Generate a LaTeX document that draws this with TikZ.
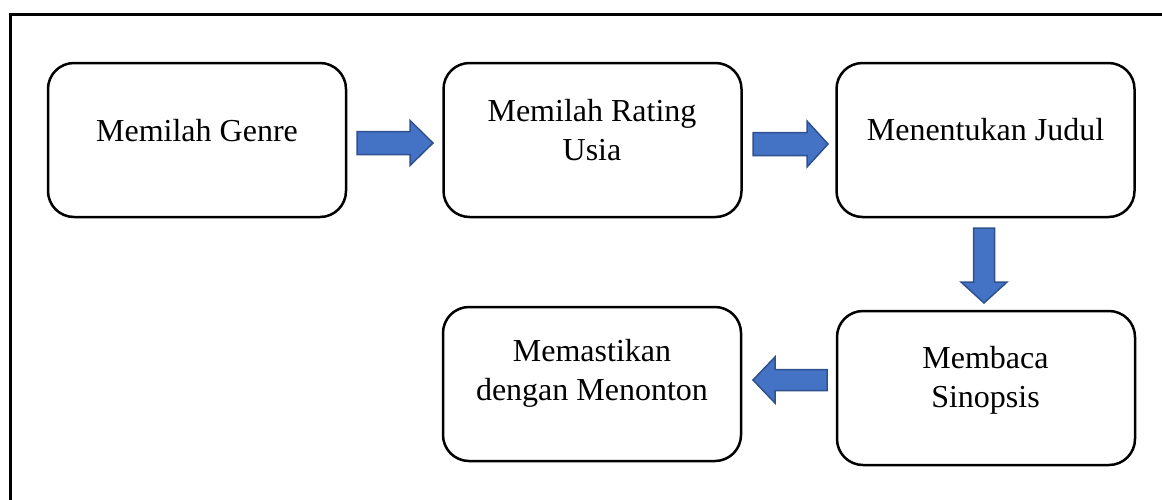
\documentclass[tikz,border=0pt]{standalone}
\usepackage{fontspec}
\setmainfont{Liberation Serif}
\definecolor{arrfill}{HTML}{4472C4}
\definecolor{arrline}{HTML}{2F528F}
\begin{document}
\begin{tikzpicture}[x=1pt,y=-1pt,
  box/.style={draw=black, line width=2.5pt, rounded corners=26pt, minimum width=298pt, minimum height=154pt, inner sep=0pt},
  lbl/.style={font=\fontsize{32}{39}\selectfont, align=center, inner sep=0pt},
  blockarrow/.style={fill=arrfill, draw=arrline, line width=1.5pt, line join=miter}]
\useasboundingbox (0,0) rectangle (1162,499);
\begin{scope}
\clip (0,0) rectangle (1162,499);
\draw[line width=3pt] (10,520) -- (10,14) -- (1180,14);
\end{scope}
% boxes
\node[box] (b1) at (197,140) {};
\node[box] (b2) at (592.5,140) {};
\node[box] (b3) at (985.5,140) {};
\node[box] (b4) at (592,384) {};
\node[box] (b5) at (986,388) {};
% texts
\node[lbl, anchor=base] (t1) at (197,141) {Memilah Genre};
\node[lbl, anchor=base] (t3) at (985.5,140.5) {Menentukan Judul};
\node[lbl, anchor=north] (t2) at (592,99) {Memilah Rating\\Usia};
\node[lbl, anchor=north] (t4) at (592,339) {Memastikan\\dengan Menonton};
\node[lbl, anchor=north] (t5) at (985.5,346) {Membaca\\Sinopsis};
% block arrows
\draw[blockarrow] (357,131.5) -- (410,131.5) -- (410,120.5) -- (433,143) -- (410,165.5) -- (410,154.5) -- (357,154.5) -- cycle;
\draw[blockarrow] (753,132.5) -- (807,132.5) -- (807,121) -- (828,144) -- (807,167) -- (807,155.5) -- (753,155.5) -- cycle;
\draw[blockarrow] (973.5,228) -- (973.5,282) -- (961,282) -- (984,303) -- (1007,282) -- (994.5,282) -- (994.5,228) -- cycle;
\draw[blockarrow] (827,369.5) -- (775,369.5) -- (775,357) -- (753,380) -- (775,403) -- (775,390.5) -- (827,390.5) -- cycle;
\end{tikzpicture}
\end{document}
